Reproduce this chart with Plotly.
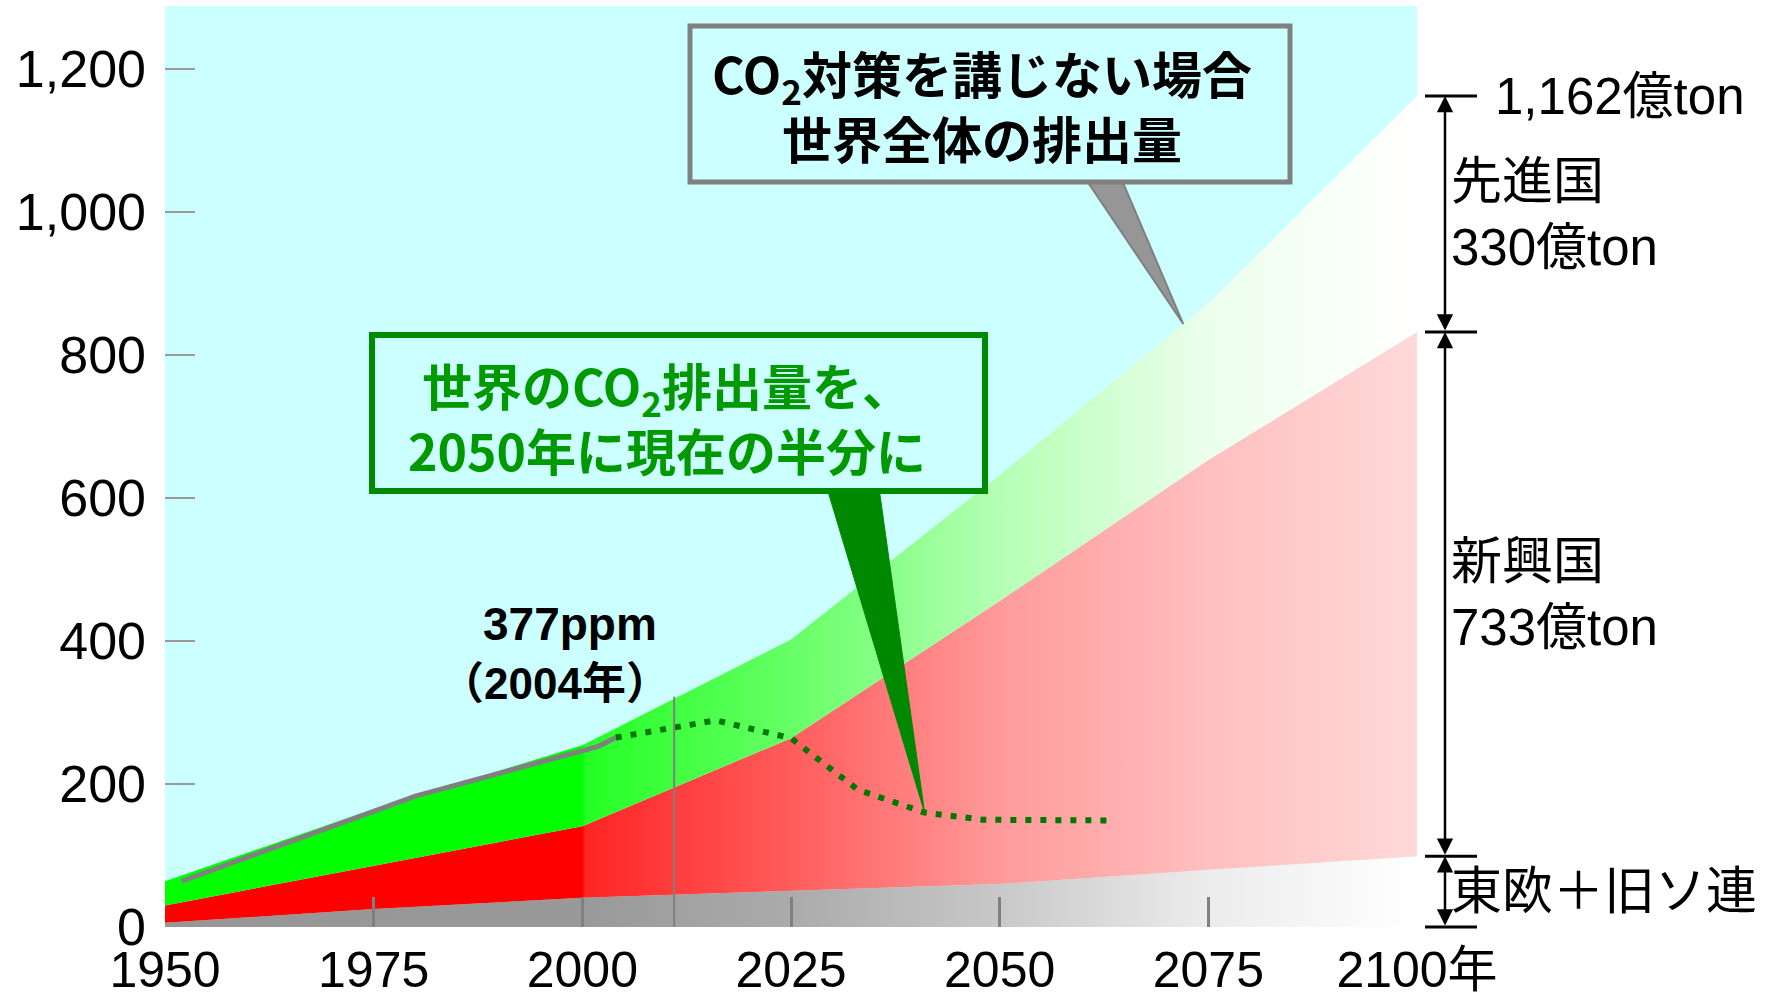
import numpy as np
import plotly.graph_objects as go

# ---- data -------------------------------------------------------------
years = [1950, 1975, 2000, 2025, 2050, 2075, 2100]

# annual CO2 emissions by region group (億ton), stacked bottom to top
east_europe_fsu = [6, 25, 41, 51, 60, 80, 99]
emerging = [24, 61, 100, 213, 396, 573, 733]
developed = [34, 79, 113, 138, 176, 219, 330]

# observed world emissions
actual_years = [1952, 1980, 2002, 2004]
actual_values = [64, 183, 253, 265]

# reduction pathway: half of today's level by 2050
target_years = [2004, 2010, 2016, 2025, 2033, 2041, 2048, 2063]
target_values = [265, 276, 289, 264, 192, 160, 150, 149]

y_tickvals = [0, 200, 400, 600, 800, 1000, 1200]
y_ticktext = ["0", "200", "400", "600", "800", "1,000", "1,200"]
x_ticktext = ["1950", "1975", "2000", "2025", "2050", "2075", "2100年"]

marker_year, marker_top = 2011, 322       # vertical marker near the present
no_policy_pointer_year = 2072               # where the grey callout points
target_pointer_year = 2041                  # where the green callout points

# ---- geometry -----------------------------------------------------------
W, H = 1771, 1000
ML, MR, MT, MB = 165, 354, 6, 73
PW, PH = W - ML - MR, H - MT - MB
X_RANGE = [1950, 2100]
Y_RANGE = [0, 1288]


def fx(year):
    return (year - X_RANGE[0]) / (X_RANGE[1] - X_RANGE[0])


def fy(val):
    return (val - Y_RANGE[0]) / (Y_RANGE[1] - Y_RANGE[0])


def px(x):
    return (x - ML) / PW


def py(y):
    return (MT + PH - y) / PH


def scale(stops):
    return [[fx(yr), c] for yr, c in stops]


LATIN = "Liberation Sans, Arial, Noto Sans CJK JP, sans-serif"
CJK = "Noto Sans CJK JP, Liberation Sans, sans-serif"

cum_east = np.array(east_europe_fsu, dtype=float)
cum_emerging = cum_east + np.array(emerging)
cum_total = cum_emerging + np.array(developed)

fig = go.Figure()

# stacked bands, fading out after 2000
fig.add_trace(go.Scatter(
    x=years, y=cum_east, mode="lines", line=dict(width=0), fill="tozeroy",
    fillgradient=dict(type="horizontal", start=1950, stop=2100, colorscale=scale([
        (1950, "#969696"), (2000, "#999999"), (2025, "#ababab"),
        (2050, "#c8c8c8"), (2075, "#ececec"), (2100, "#ffffff")])),
    hoverinfo="skip", showlegend=False))
fig.add_trace(go.Scatter(
    x=years, y=cum_emerging, mode="lines", line=dict(width=0), fill="tonexty",
    fillgradient=dict(type="horizontal", start=1950, stop=2100, colorscale=scale([
        (1950, "#ff0000"), (2000, "#ff0000"), (2000.3, "#ff2424"), (2025, "#ff5c5c"),
        (2050, "#ff9a9a"), (2075, "#ffbfbf"), (2100, "#ffd9d9")])),
    hoverinfo="skip", showlegend=False))
fig.add_trace(go.Scatter(
    x=years, y=cum_total, mode="lines", line=dict(width=0), fill="tonexty",
    fillgradient=dict(type="horizontal", start=1950, stop=2100, colorscale=scale([
        (1950, "#00ff00"), (2000, "#00ff00"), (2000.3, "#24ff24"), (2025, "#66ff66"),
        (2050, "#b4ffb4"), (2075, "#ecffec"), (2100, "#ffffff")])),
    hoverinfo="skip", showlegend=False))

fig.add_trace(go.Scatter(
    x=actual_years, y=actual_values, mode="lines",
    line=dict(color="#808080", width=5), hoverinfo="skip", showlegend=False))
fig.add_trace(go.Scatter(
    x=target_years, y=target_values, mode="lines",
    line=dict(color="#007800", width=6, dash="6px,9px"),
    hoverinfo="skip", showlegend=False))

shapes = []
annotations = []

# vertical marker line
shapes.append(dict(type="line", xref="x", yref="y", x0=marker_year, x1=marker_year,
                   y0=0, y1=marker_top, line=dict(color="#808080", width=2)))

# grey callout (no-policy total)
tip_v = float(np.interp(no_policy_pointer_year, years, cum_total))
shapes.append(dict(type="path", xref="paper", yref="paper",
                   path=f"M {px(1085)},{py(178)} L {fx(no_policy_pointer_year)},{fy(tip_v)} "
                        f"L {px(1121)},{py(178)} Z",
                   fillcolor="#969696", line=dict(color="#808080", width=2)))
shapes.append(dict(type="rect", xref="paper", yref="paper",
                   x0=px(690), x1=px(1290), y0=py(182), y1=py(26),
                   fillcolor="#ccffff", line=dict(color="#808080", width=5)))
annotations.append(dict(xref="paper", yref="paper", x=px(982), y=py(104),
                        xanchor="center", yanchor="middle", showarrow=False,
                        text="<b>CO<sub>2</sub>対策を講じない場合<br>世界全体の排出量</b>",
                        font=dict(family=CJK, size=50, color="black")))

# green callout (reduction target)
tip_t = float(np.interp(target_pointer_year, target_years, target_values))
shapes.append(dict(type="path", xref="paper", yref="paper",
                   path=f"M {px(827)},{py(488)} L {fx(target_pointer_year)},{fy(tip_t)} "
                        f"L {px(879)},{py(488)} Z",
                   fillcolor="#008800", line=dict(color="#008800", width=1)))
shapes.append(dict(type="rect", xref="paper", yref="paper",
                   x0=px(372), x1=px(985), y0=py(491), y1=py(335),
                   fillcolor="#ccffff", line=dict(color="#008a00", width=6)))
annotations.append(dict(xref="paper", yref="paper", x=px(667), y=py(416),
                        xanchor="center", yanchor="middle", showarrow=False,
                        text="<b>世界のCO<sub>2</sub>排出量を、<br>2050年に現在の半分に</b>",
                        font=dict(family=CJK, size=50, color="#009900")))

# concentration note
annotations.append(dict(xref="paper", yref="paper", x=px(570), y=py(624),
                        xanchor="center", yanchor="middle", showarrow=False,
                        text="<b>377ppm</b>",
                        font=dict(family=LATIN, size=46, color="black")))
annotations.append(dict(xref="paper", yref="paper", x=px(555), y=py(683),
                        xanchor="center", yanchor="middle", showarrow=False,
                        text="<b>（2004年）</b>",
                        font=dict(family=LATIN, size=44, color="black")))

# right-hand brackets for the 2100 breakdown
levels = [cum_total[-1], cum_emerging[-1], cum_east[-1], 0.0]
for v in levels:
    shapes.append(dict(type="line", xref="paper", yref="paper",
                       x0=px(1425), x1=px(1477), y0=fy(v), y1=fy(v),
                       line=dict(color="black", width=3)))
for top, bottom in zip(levels[:-1], levels[1:]):
    annotations.append(dict(xref="paper", yref="paper", x=px(1445), y=fy(top),
                            ax=0, ay=(fy(top) - fy(bottom)) * PH, axref="pixel", ayref="pixel",
                            text="", showarrow=True, arrowside="end+start",
                            arrowhead=2, arrowsize=1.3, arrowwidth=2.5,
                            arrowcolor="black", standoff=0, startstandoff=0))

side_font = dict(family=LATIN, size=51, color="black")
annotations.append(dict(xref="paper", yref="paper", x=px(1493), y=fy(levels[0]),
                        xanchor="left", yanchor="middle", showarrow=False,
                        text=f"{int(cum_total[-1]):,}億ton", font=side_font))
annotations.append(dict(xref="paper", yref="paper", x=px(1449), y=fy((levels[0] + levels[1]) / 2),
                        xanchor="left", yanchor="middle", showarrow=False, align="left",
                        text=f"先進国<br>{developed[-1]}億ton", font=side_font))
annotations.append(dict(xref="paper", yref="paper", x=px(1449), y=fy((levels[1] + levels[2]) / 2),
                        xanchor="left", yanchor="middle", showarrow=False, align="left",
                        text=f"新興国<br>{emerging[-1]}億ton", font=side_font))
annotations.append(dict(xref="paper", yref="paper", x=px(1449), y=fy((levels[2] + levels[3]) / 2),
                        xanchor="left", yanchor="middle", showarrow=False,
                        text="東欧＋旧ソ連", font=side_font))

fig.update_layout(
    width=W, height=H,
    margin=dict(l=ML, r=MR, t=MT, b=MB, pad=0, autoexpand=False),
    paper_bgcolor="white", plot_bgcolor="#ccffff",
    showlegend=False,
    shapes=shapes, annotations=annotations,
    xaxis=dict(range=X_RANGE, showgrid=False, zeroline=False, showline=False,
               automargin=False,
               tickmode="array", tickvals=years, ticktext=x_ticktext,
               ticks="inside", ticklen=30, tickwidth=3, tickcolor="#808080",
               tickfont=dict(family=LATIN, size=50, color="black"),
               ticklabelstandoff=9, layer="above traces"),
    yaxis=dict(range=Y_RANGE, showgrid=False, zeroline=False, showline=False,
               automargin=False,
               tickmode="array", tickvals=y_tickvals, ticktext=y_ticktext,
               ticks="inside", ticklen=30, tickwidth=2, tickcolor="#999999",
               tickfont=dict(family=LATIN, size=52, color="black"),
               ticklabelstandoff=18, layer="above traces"),
)

fig.write_html("out.html")
